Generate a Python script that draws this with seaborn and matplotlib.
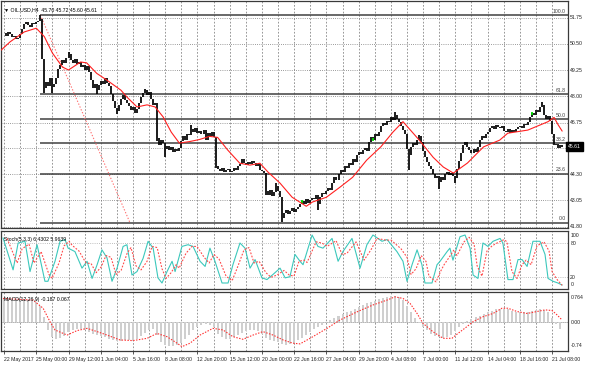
import matplotlib
matplotlib.use("Agg")
import matplotlib.pyplot as plt
import matplotlib.transforms as mtransforms
import numpy as np
import pandas as pd
import seaborn as sns

# === ДАННЫЕ ===
# закрытия баров H4, бар 0 = 22 May 2017 00:00
close = [
    51.0, 50.9, 51.05, 50.95, 50.85, 50.9, 50.75, 50.8, 50.95, 51.2,
    51.45, 51.55, 51.4, 51.3, 51.5, 51.45, 51.55, 51.6, 51.7, 49.8,
    48.4, 48.7, 48.5, 48.9, 48.45, 48.6, 48.9, 49.3, 49.5, 49.75,
    49.6, 49.85, 50.0, 49.75, 49.6, 49.8, 49.55, 49.65, 49.4, 49.5,
    49.25, 49.45, 49.15, 48.8, 48.4, 48.6, 48.3, 48.55, 48.75, 48.6,
    48.9, 48.65, 48.5, 48.1, 47.8, 47.45, 47.3, 47.6, 47.9, 48.05,
    47.85, 47.7, 47.55, 47.35, 47.5, 47.2, 47.4, 47.7, 47.95, 48.15,
    48.3, 48.05, 48.2, 47.9, 47.6, 47.7, 46.0, 45.7, 45.95, 45.8,
    45.5, 45.65, 45.45, 45.6, 45.35, 45.5, 45.4, 45.55, 45.9, 46.1,
    45.95, 46.2, 46.15, 46.45, 46.3, 46.5, 46.25, 46.35, 46.2, 46.4,
    45.95, 46.25, 46.1, 46.3, 46.05, 44.7, 44.55, 44.45, 44.6, 44.4,
    44.5, 44.55, 44.4, 44.45, 44.6, 44.5, 44.7, 44.8, 45.0, 44.85,
    44.75, 44.9, 44.8, 44.95, 44.85, 44.7, 44.8, 44.5, 44.45, 44.35,
    43.5, 43.3, 43.55, 43.25, 43.45, 43.75, 43.5, 43.2, 42.2, 42.45,
    42.6, 42.4, 42.55, 42.7, 42.5, 42.65, 42.75, 42.9, 43.0, 42.9,
    43.1, 42.95, 43.05, 43.15, 43.1, 43.3, 42.9, 43.2, 43.4, 43.35,
    43.5, 43.65, 43.55, 43.9, 44.15, 44.0, 44.3, 44.5, 44.4, 44.7,
    44.6, 44.85, 44.75, 45.0, 44.9, 45.2, 45.35, 45.25, 45.45, 45.55,
    45.4, 45.85, 46.05, 45.95, 46.2, 46.1, 46.3, 46.6, 46.75, 46.65,
    46.85, 46.8, 47.0, 46.9, 47.1, 46.95, 46.8, 46.6, 46.4, 46.2,
    45.5, 45.2, 45.6, 45.8, 45.7, 45.95, 46.1, 45.85, 45.4, 45.1,
    44.9, 44.7, 44.55, 44.3, 44.1, 44.2, 43.95, 44.15, 44.0, 44.3,
    44.4, 44.25, 44.35, 44.2, 44.1, 44.55, 44.95, 45.3, 45.7, 45.85,
    45.6, 45.45, 45.3, 45.5, 45.35, 45.6, 45.95, 46.1, 46.0, 46.2,
    46.3, 46.5, 46.6, 46.45, 46.65, 46.55, 46.5, 46.6, 46.35, 46.3,
    46.45, 46.25, 46.4, 46.3, 46.45, 46.55, 46.6, 46.5, 46.7, 46.65,
    46.8, 47.0, 47.2, 47.1, 47.35, 47.25, 47.5, 47.6, 47.1, 46.95,
    47.05, 46.85, 46.2, 45.7, 45.75, 45.55, 45.7, 45.61,
]
# длинные тени отдельных баров
spike_bar = [18, 20, 24, 32, 46, 56, 70, 76, 80, 93, 105, 130, 135, 138, 156, 194, 201, 206, 216, 224, 267]
spike_price = [51.88, 48.15, 48.15, 50.12, 48.1, 47.15, 48.35, 45.9, 45.1, 46.64, 44.6, 43.3, 43.9, 42.0,
               42.6, 47.25, 44.5, 46.15, 43.6, 43.9, 47.75]
green_bar = [148, 183, 262]

# скользящая средняя (красная)
ma_bar = [-1.5, 3, 10, 16, 20, 24, 29, 32, 38, 41, 46, 51, 58, 61, 66, 71, 75, 79, 83, 87, 92, 97, 102,
          106, 111, 117, 122, 127, 131, 137, 143, 150, 153, 160, 167, 173, 180, 187, 193, 198, 206, 213,
          218, 223, 230, 238, 246, 250, 260, 270, 273, 275, 277]
ma_val = [50.2, 50.6, 51.07, 51.25, 50.85, 50.07, 49.4, 49.26, 49.64, 49.6, 49.1, 48.78, 48.3, 47.97,
          47.5, 47.6, 47.5, 47.02, 46.3, 45.78, 45.85, 45.95, 46.1, 46.05, 45.45, 44.82, 44.73, 44.82,
          44.4, 43.87, 43.2, 42.77, 42.97, 43.2, 43.7, 44.15, 44.97, 45.6, 46.3, 46.8, 45.93, 45.1,
          44.64, 44.35, 44.83, 45.6, 45.92, 46.25, 46.4, 46.8, 47.0, 46.65, 46.35]

# фибоначчи
fib_high, fib_low = 51.88, 41.99
fib_start, fib_end = 18, 62.5
fib_levels = [100.0, 61.8, 50.0, 38.2, 23.6, 0.0]

# Stochastic(5,3,3)
k_bar = [-0.5, 4.5, 7, 10.4, 12.9, 16.4, 20.3, 21.8, 25.3, 27.8, 30.3, 31.8, 35.2, 38.7, 41.2, 43.7,
         46.2, 48.6, 51.1, 53.6, 56.1, 59.1, 61, 63.5, 66, 69, 71.5, 74, 76.4, 78.4, 80.9, 83.4, 84.9,
         88.3, 91.3, 93.8, 97.3, 99.8, 102.2, 104.7, 108.2, 111.2, 113.6, 117.1, 119.6, 122.1, 124.6,
         128, 130.5, 133.5, 137, 139.5, 141.9, 144.4, 146.9, 148.4, 152.9, 155.8, 158.3, 162.8, 165.8,
         168.2, 172.7, 176.7, 180.1, 183.1, 187.6, 190.1, 195, 198, 200, 202.5, 205, 207.4, 208.9, 212.4,
         214.9, 216.4, 219.9, 221.3, 222.8, 226.3, 228.8, 231.3, 232.8, 235.2, 237.7, 240.2, 242.7,
         246.2, 247.6, 250.1, 252.6, 255.1, 257.1, 259.6, 262.5, 266, 268.5, 270, 272.5, 274.9, 277]
k_val = [89, 33, 80, 83, 30, 77, 13, 13, 48, 83, 86, 71, 65, 36, 48, 18,
         42, 68, 54, 13, 36, 74, 77, 24, 30, 53, 83, 71, 19, 10, 30, 48, 30,
         74, 77, 74, 48, 39, 71, 48, 10, 10, 42, 80, 71, 36, 51,
         19, 16, 25, 36, 19, 21, 60, 48, 42, 94, 74, 71, 88, 48,
         65, 88, 36, 77, 94, 83, 86, 65, 48, 13, 42, 68, 42, 10, 10,
         42, 48, 65, 71, 50, 91, 94, 71, 24, 18, 80, 74, 83,
         88, 80, 16, 16, 51, 51, 39, 83, 83, 60, 18, 13, 10, 6.4]
d_bar = [1.5, 6.5, 9, 12.4, 14.9, 18.4, 22.3, 23.8, 27.3, 29.8, 32.3, 33.8, 37.2, 40.7, 43.2, 45.7,
         48.2, 50.6, 53.1, 55.6, 58.1, 61.1, 63, 65.5, 68, 71, 73.5, 76, 78.4, 80.4, 82.9, 85.4, 86.9,
         90.3, 93.3, 95.8, 99.3, 101.8, 104.2, 106.7, 110.2, 113.2, 115.6, 119.1, 121.6, 124.1, 126.6,
         130, 132.5, 135.5, 139, 141.5, 143.9, 146.4, 148.9, 150.4, 154.9, 157.8, 160.3, 164.8, 167.8,
         170.2, 174.7, 178.7, 182.1, 185.1, 189.6, 192.1, 197, 200, 202, 204.5, 207, 209.4, 210.9, 214.4,
         216.9, 218.4, 221.9, 223.3, 224.8, 228.3, 230.8, 233.3, 234.8, 237.2, 239.7, 242.2, 244.7,
         248.2, 249.6, 252.1, 254.6, 257.1, 259.1, 261.6, 264.5, 268, 270.5, 272, 274.5, 277]
d_val = [88, 45, 70, 78, 45, 65, 25, 18, 45, 75, 83, 76, 66, 45, 44, 28,
         38, 58, 55, 25, 32, 62, 72, 40, 33, 48, 74, 72, 35, 18, 28, 42, 36,
         62, 74, 74, 55, 45, 60, 52, 22, 14, 35, 68, 72, 45, 48,
         28, 20, 24, 32, 24, 22, 48, 50, 46, 82, 80, 74, 84, 60,
         62, 82, 50, 68, 88, 85, 85, 70, 55, 25, 35, 58, 48, 22, 12,
         32, 42, 60, 68, 58, 82, 90, 78, 40, 22, 66, 75, 80,
         86, 82, 30, 18, 42, 50, 42, 75, 82, 66, 30, 16, 5.96]

# MACD(12,26,9): гистограмма (через бар) и сигнальная
hist_bar = list(range(0, 277, 2))
hist_val = [0.74, 0.73, 0.72, 0.72, 0.70, 0.69, 0.68, 0.66, 0.62, 0.50,
            0.15, -0.25, -0.45, -0.50, -0.48, -0.42, -0.30, -0.24, -0.22, -0.22,
            -0.25, -0.30, -0.36, -0.40, -0.42, -0.45, -0.50, -0.55, -0.58, -0.56,
            -0.55, -0.55, -0.56, -0.52, -0.42, -0.32, -0.25, -0.22, -0.40, -0.60,
            -0.70, -0.74, -0.74, -0.70, -0.62, -0.50, -0.38, -0.25, -0.15, -0.08,
            -0.06, -0.08, -0.15, -0.35, -0.45, -0.50, -0.50, -0.46, -0.40, -0.32,
            -0.27, -0.25, -0.25, -0.28, -0.36, -0.48, -0.55, -0.58, -0.60, -0.66,
            -0.68, -0.66, -0.62, -0.55, -0.47, -0.38, -0.30, -0.22, -0.15, -0.08,
            0.00, 0.06, 0.12, 0.18, 0.24, 0.30, 0.36, 0.42, 0.48, 0.53,
            0.58, 0.62, 0.66, 0.70, 0.74, 0.77, 0.79, 0.79, 0.76, 0.68,
            0.50, 0.30, 0.12, -0.02, -0.15, -0.25, -0.35, -0.42, -0.46, -0.48,
            -0.45, -0.38, -0.28, -0.15, -0.04, 0.05, 0.10, 0.15, 0.20, 0.25,
            0.30, 0.36, 0.40, 0.42, 0.42, 0.40, 0.36, 0.32, 0.30, 0.30,
            0.32, 0.35, 0.38, 0.40, 0.38, 0.30, 0.12, -0.05, -0.19]
sig_bar = [-0.5, 14.4, 19.4, 22.8, 25.3, 31.3, 36.2, 41.2, 46.2, 51.1, 57.6, 64, 71, 75.9, 80.9, 85.9,
           88.3, 92.3, 97.3, 103.7, 108.7, 113.6, 118.6, 123.6, 128.5, 133.5, 138.5, 143.4, 146.9,
           151.9, 160.3, 166.7, 175.2, 183.1, 190.1, 194, 198, 201.5, 205, 207.9, 212.9, 217.9, 222.3,
           225.3, 229.8, 232.8, 237.7, 242.7, 247.1, 250.1, 254.6, 259.6, 264.5, 268.5, 272, 274.4, 277]
sig_val = [0.73, 0.68, 0.43, 0.02, -0.235, -0.39, -0.255, -0.185, -0.285, -0.39, -0.54, -0.56, -0.49,
           -0.34, -0.44, -0.64, -0.745, -0.64, -0.39, -0.185, -0.235, -0.44, -0.52, -0.39, -0.285,
           -0.39, -0.54, -0.64, -0.66, -0.49, -0.185, 0.07, 0.32, 0.53, 0.68, 0.78, 0.73, 0.58, 0.27,
           -0.03, -0.29, -0.49, -0.49, -0.34, -0.13, 0.02, 0.17, 0.27, 0.43, 0.43, 0.33, 0.27, 0.33,
           0.38, 0.36, 0.23, 0.067]

# подписи оси времени (каждые 16 баров)
time_bar = list(range(0, 273, 16))
time_labels = ["22 May 2017", "25 May 00:00", "29 May 12:00", "1 Jun 04:00", "5 Jun 16:00",
               "8 Jun 08:00", "12 Jun 20:00", "15 Jun 12:00", "20 Jun 00:00", "22 Jun 16:00",
               "27 Jun 04:00", "29 Jun 20:00", "4 Jul 08:00", "7 Jul 00:00", "11 Jul 12:00",
               "14 Jul 04:00", "18 Jul 16:00", "21 Jul 08:00"]
price_ticks = [51.75, 50.50, 49.25, 48.00, 46.75, 44.30, 43.05, 41.80]
price_grid = [51.75, 50.50, 49.25, 48.00, 46.75, 45.525, 44.30, 43.05, 41.80]

# === ОФОРМЛЕНИЕ ===
sns.set_style("white")
plt.rcParams["font.family"] = ["Liberation Sans", "DejaVu Sans"]
FS = 3.7
GRID = "#7a7a7a"
FRAME = "#3a3a3a"

W, H = 590, 369
fig = plt.figure(figsize=(W / 100, H / 100), dpi=100)


def px_axes(left, top, right, bottom):
    return fig.add_axes([left / W, 1 - bottom / H, (right - left) / W, (bottom - top) / H])


ax = px_axes(1, 1, 568, 228)
ax_st = px_axes(1, 231, 568, 289)
ax_m = px_axes(1, 292, 568, 351)

XMIN, XMAX = -1.5, 279.9
for a in (ax, ax_st, ax_m):
    a.set_xlim(XMIN, XMAX)
    a.set_yticks([])
    a.set_xticks([])
    for s in a.spines.values():
        s.set_color(FRAME)
        s.set_linewidth(0.9)
    for g in range(0, 277, 8):
        a.axvline(g, color=GRID, lw=0.55, ls=(0, (2.2, 2.2)), zorder=0)

ax.set_ylim(41.736, 52.545)
ax_st.set_ylim(-0.5, 101)
ax_m.set_ylim(-0.878, 0.927)


def right_label(a, val, txt, **kw):
    tr = mtransforms.blended_transform_factory(a.transAxes, a.transData)
    a.text(1.004, val, txt, transform=tr, ha="left", va="center", fontsize=FS, color="#202020",
           clip_on=False, **kw)


# --- основное окно ---
for p in price_grid:
    ax.axhline(p, color=GRID, lw=0.6, ls=(0, (1, 1.6)), zorder=0)
for p in price_ticks:
    right_label(ax, p, f"{p:.2f}")

df = pd.DataFrame({"bar": np.arange(len(close)), "close": close})
df["open"] = df["close"].shift(1).fillna(df["close"])
df["spike"] = np.nan
df.loc[spike_bar, "spike"] = spike_price
df["hi"] = df[["open", "close", "spike"]].max(axis=1)
df["lo"] = df[["open", "close", "spike"]].min(axis=1)
ax.vlines(df["bar"], df["lo"], df["hi"], color="black", lw=1.25, zorder=3)
gb = df.loc[green_bar]
ax.vlines(gb["bar"], gb["close"] - 0.06, gb["close"] + 0.06, color="#00e000", lw=1.3, zorder=4)

sns.lineplot(x=ma_bar, y=ma_val, ax=ax, color="#ff2020", lw=0.8, estimator=None, sort=False, zorder=4)

rng = fib_high - fib_low
tr = mtransforms.blended_transform_factory(ax.transAxes, ax.transData)
for lev in fib_levels:
    p = fib_low + rng * lev / 100
    ax.hlines(p, fib_start, XMAX, color="#404040", lw=1.1, zorder=2)
    ax.text(0.9965, p + 0.06, f"{lev:.1f}", transform=tr, ha="right", va="bottom", fontsize=FS,
            color="#404040")
ax.plot([fib_start, fib_end], [fib_high, fib_low], color="#ff7070", lw=0.8, ls=(0, (1.2, 1.6)), zorder=2)

ax.text(1.0, close[-1], f"{close[-1]:.2f}", transform=tr, ha="left", va="center", fontsize=FS,
        color="white", clip_on=False, zorder=6,
        bbox=dict(boxstyle="square,pad=0.35", facecolor="black", edgecolor="black"))
ax.text(0.006, 0.962, "\u25bc OIL.USD,H4  45.70 45.72 45.60 45.61", transform=ax.transAxes,
        fontsize=FS, color="black", ha="left", va="center")

# --- Stochastic ---
for lv in (80, 20):
    ax_st.axhline(lv, color="#a8a8a8", lw=0.6, ls=(0, (1, 1.6)), zorder=0)
sns.lineplot(x=k_bar, y=k_val, ax=ax_st, color="#3cc8bc", lw=0.8, estimator=None, sort=False, zorder=3)
sns.lineplot(x=d_bar, y=d_val, ax=ax_st, color="#ff4a4a", lw=0.8, estimator=None, sort=False,
             ls=(0, (1.6, 1.4)), zorder=4)
for v, t in ((94, "100"), (80, "80"), (20, "20"), (8, "0")):
    right_label(ax_st, v, t)
ax_st.text(0.006, 0.86, "Stoch(5,3,3) 6.4302 5.9639", transform=ax_st.transAxes, fontsize=FS,
           color="black", ha="left", va="center")

# --- MACD ---
ax_m.axhline(0, color="#555555", lw=0.6, ls=(0, (1, 1.4)), zorder=0)
ax_m.bar(hist_bar, hist_val, width=1.0, color="#cfcfcf", lw=0, zorder=1)
sns.lineplot(x=sig_bar, y=sig_val, ax=ax_m, color="#ff3030", lw=0.8, estimator=None, sort=False,
             ls=(0, (1.3, 1.3)), zorder=3)
for v, t in ((0.774, "0.764"), (0.0, "0.00"), (-0.72, "-0.74")):
    right_label(ax_m, v, t)
ax_m.text(0.006, 0.88, "MACD(12,26,9) -0.187 0.067", transform=ax_m.transAxes, fontsize=FS,
          color="black", ha="left", va="center")

ax_m.set_xticks(time_bar)
ax_m.set_xticklabels(time_labels, fontsize=FS, color="#202020")
for t in ax_m.get_xticklabels():
    t.set_ha("left")
ax_m.tick_params(axis="x", length=2.5, width=0.6, pad=1.5, color=FRAME, bottom=True)
ax_m.set_xlim(XMIN, XMAX)

for a in (ax, ax_st, ax_m):
    a.set_xlabel("")
    a.set_ylabel("")

fig.savefig("out.png", dpi=100, facecolor="white")
